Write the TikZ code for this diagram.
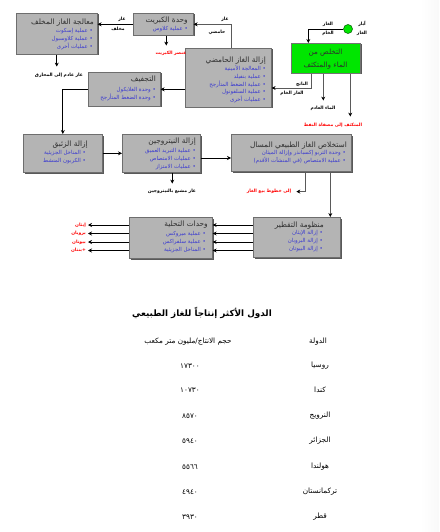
\documentclass[tikz,border=0pt]{standalone}
\usepackage{fontspec}
\newfontfamily\arabicfont[Script=Arabic]{DejaVu Sans}
\TeXXeTstate=1
\usetikzlibrary{arrows.meta,shadows}
\newcommand\artxt[1]{\beginR #1\endR}
\newcommand\blt[1]{\beginR • #1\endR}
\definecolor{boxgray}{HTML}{B4B4B4}
\definecolor{boxline}{HTML}{6E6E6E}
\definecolor{ttlc}{HTML}{2E2E2E}
\definecolor{bulc}{HTML}{3A3AD0}
\definecolor{redc}{HTML}{FF0000}
\definecolor{grn}{HTML}{00E600}
\definecolor{linec}{HTML}{5A5A5A}
\begin{document}
\begin{tikzpicture}[x=1pt,y=-1pt,
 box/.style={draw=boxline, fill=boxgray, line width=0.6pt, anchor=north west, inner sep=0pt,
   drop shadow={shadow xshift=1.2pt, shadow yshift=-1.2pt, fill=black!65, opacity=1}},
 ttl/.style={font=\arabicfont\fontsize{7.4}{8}\selectfont, text=ttlc, inner sep=0pt},
 bul/.style={font=\arabicfont\fontsize{5.5}{7.6}\selectfont, text=bulc, inner sep=0pt, align=right, anchor=north east},
 lbl/.style={font=\arabicfont\bfseries\fontsize{4.5}{9}\selectfont, inner sep=0pt},
 rlbl/.style={lbl, text=redc},
 arr/.style={draw=black, line width=0.8pt, -{Stealth[length=4pt,width=4pt]}},
 garr/.style={draw=linec, line width=0.8pt, -{Stealth[length=4pt,width=4pt,color=black]}},
 tbl/.style={font=\arabicfont\fontsize{7.3}{9}\selectfont, inner sep=0pt},
]
\useasboundingbox (0,0) rectangle (439,532);
\fill[white] (0,0) rectangle (439,532);
\shade[left color=white, right color=gray!5] (420,0) rectangle (439,532);

% ---- boxes ----
\node[box, minimum width=81pt, minimum height=41pt] (tg) at (16,13) {};
\node[ttl, anchor=east] (tgT) at (94,23) {\artxt{معالجة الغاز المخلف}};
\node[bul] (tgB) at (93,28.5) {\blt{عملية إسكوت}\\\blt{عملية كلاوسبول}\\\blt{عمليات أخرى}};

\node[box, minimum width=60pt, minimum height=22pt] (su) at (133,13) {};
\node[ttl, anchor=east] (suT) at (188,20.5) {\artxt{وحدة الكبريت}};
\node[bul] (suB) at (188,26) {\blt{عملية كلاوس}};

\node[box, minimum width=86pt, minimum height=59pt] (ag) at (185,48) {};
\node[ttl, anchor=east] (agT) at (266,60.5) {\artxt{إزالة الغاز الحامضي}};
\node[bul] (agB) at (266,65.5) {\blt{المعالجة الأمينية}\\\blt{عملية بنفيلد}\\\blt{عملية الضغط المتأرجح}\\\blt{عملية السلفونول}\\\blt{عمليات أخرى}};

\node[box, fill=grn, draw=black!55, minimum width=69pt, minimum height=30pt] (gr) at (291,43) {};
\node[ttl, align=center, font=\arabicfont\fontsize{7.2}{13}\selectfont] (grT) at (325.5,59.5) {\artxt{التخلص من}\\\artxt{الماء والمتكثف}};

\node[circle, fill=grn, draw=green!35!black, line width=0.5pt, minimum size=9pt, inner sep=0pt] (well) at (348,29) {};
\node[lbl, align=center] (wellL) at (362,28.5) {\artxt{آبار}\\\artxt{الغاز}};

\node[box, minimum width=72pt, minimum height=34pt] (dh) at (88,72) {};
\node[ttl, anchor=east] (dhT) at (156,79) {\artxt{التجفيف}};
\node[bul] (dhB) at (156,87.5) {\blt{وحدة الغلايكول}\\\blt{وحدة الضغط المتأرجح}};

\node[box, minimum width=79pt, minimum height=38pt] (hg) at (23,134) {};
\node[ttl, anchor=east] (hgT) at (88,145) {\artxt{إزالة الزئبق}};
\node[bul] (hgB) at (86,150.5) {\blt{المناخل الجزيئية}\\\blt{الكربون المنشط}};

\node[box, minimum width=78pt, minimum height=38pt] (ni) at (122,134) {};
\node[ttl, anchor=east] (niT) at (196,142) {\artxt{إزالة النيتروجين}};
\node[bul] (niB) at (196,148.5) {\blt{عملية التبريد العميق}\\\blt{عمليات الامتصاص}\\\blt{عمليات الامتزاز}};

\node[box, minimum width=120pt, minimum height=37pt] (ngl) at (231,134) {};
\node[ttl, anchor=east] (nglT) at (347,146) {\artxt{استخلاص الغاز الطبيعي المسال}};
\node[bul] (nglB) at (346,150.5) {\blt{وحدة التربو إكسبانذر وإزالة الميثان}\\\blt{عملية الامتصاص (في المنشآت الأقدم)}};

\node[box, minimum width=87pt, minimum height=40pt] (fr) at (253,217) {};
\node[ttl, anchor=east] (frT) at (324,226) {\artxt{منظومة التقطير}};
\node[bul] (frB) at (323,230.5) {\blt{إزالة الإيثان}\\\blt{إزالة البروبان}\\\blt{إزالة البيوتان}};

\node[box, minimum width=83pt, minimum height=41pt] (sw) at (129,217) {};
\node[ttl, anchor=east] (swT) at (208,225) {\artxt{وحدات التحلية}};
\node[bul] (swB) at (206,231.5) {\blt{عملية ميروكس}\\\blt{عملية سلفراكس}\\\blt{المناخل الجزيئية}};

% ---- connectors ----
\draw[arr] (su.west) -- (su.west -| tg.east);
\node[lbl] (l1) at (122,19) {\artxt{غاز}};
\node[lbl] (l2) at (118,29) {\artxt{مخلف}};

\draw[arr] ([xshift=3pt]su.south) -- ++(0,10);
\node[rlbl] (l3) at (171,53) {\artxt{عنصر الكبريت}};

\draw[garr] ([xshift=3pt]ag.north) -- ([xshift=3pt]ag.north |- su.east) -- (su.east);
\node[lbl] (l4) at (225,19) {\artxt{غاز}};
\node[lbl] (l5) at (217,32) {\artxt{حامضي}};

\draw[arr] (tg.south) -- ++(0,12);
\node[lbl] (l6) at (59,75) {\artxt{غاز عادم إلى المحارق}};

\draw[arr] (well.west) -| ([xshift=-17.5pt]gr.north);
\node[lbl] (l7) at (328,24.5) {\artxt{الغاز}};
\node[lbl] (l8) at (328,33.5) {\artxt{الخام}};

\draw[garr] ([xshift=-14.5pt]gr.south) |- (ag.east |- 0,88);
\node[lbl] (l9) at (302,84) {\artxt{الناتج}};
\node[lbl] (l10) at (292,93) {\artxt{الغاز الخام}};

\draw[garr] ([xshift=-2.5pt]gr.south) -- ++(0,27);
\node[lbl] (l11) at (323,108) {\artxt{الماء العادم}};

\draw[garr] ([xshift=24.5pt]gr.south) -- ++(0,43);
\node[rlbl] (l12) at (333,125) {\artxt{المتكثف إلى مصفاة النفط}};

\draw[arr] (ag.west |- dh.east) -- (dh.east);
\draw[arr] (dh.west) -| (hg.north);
\draw[arr] (hg.east) -- (ni.west);
\draw[arr] (ni.east |- 0,158) -- (ngl.west |- 0,158);

\draw[arr] ([xshift=11pt]ni.south) -- ++(0,11);
\node[lbl] (l13) at (172,191) {\artxt{غاز مشبع بالنيتروجين}};

\draw[garr] ([xshift=14pt]ngl.south) -- ++(0,20) -- ++(-9,0);
\node[rlbl] (l14) at (269,191) {\artxt{إلى خطوط بيع الغاز}};

\draw[garr] ([xshift=39pt]ngl.south) -- ([xshift=39pt]ngl.south |- fr.north);

\foreach \yy in {225,233.5,242,250.5} {
  \draw[arr] (fr.west |- 0,\yy) -- (sw.east |- 0,\yy);
  \draw[arr] (sw.west |- 0,\yy) -- ++(-41,0);
}
\node[rlbl, anchor=east] (p1) at (86,225) {\artxt{إيثان}};
\node[rlbl, anchor=east] (p2) at (86,233.5) {\artxt{بروبان}};
\node[rlbl, anchor=east] (p3) at (86,242) {\artxt{بيوتان}};
\node[rlbl, anchor=east] (p4) at (86,250.5) {\artxt{بنتان}+};

% ---- table ----
\node[font=\arabicfont\bfseries\fontsize{8.8}{11}\selectfont, inner sep=0pt] (tt) at (202,313) {\artxt{الدول الأكثر إنتاجاً للغاز الطبيعي}};
\node[tbl] (h1) at (188,342) {\artxt{حجم الانتاج/مليون متر مكعب}};
\node[tbl] (h2) at (318,342) {\artxt{الدولة}};
\foreach \cn/\nv/\yy [count=\i] in {روسيا/١٧٣٠٠/366, كندا/١٠٧٣٠/390, النرويج/٨٥٧٠/416, الجزائر/٥٩٤٠/441, هولندا/٥٥٦٦/467, تركمانستان/٤٩٤٠/492, قطر/٣٩٣٠/517} {
  \node[tbl] (c\i) at (320,\yy) {\artxt{\cn}};
  \node[tbl] (n\i) at (190,\yy) {\nv};
}
\end{tikzpicture}
\end{document}
